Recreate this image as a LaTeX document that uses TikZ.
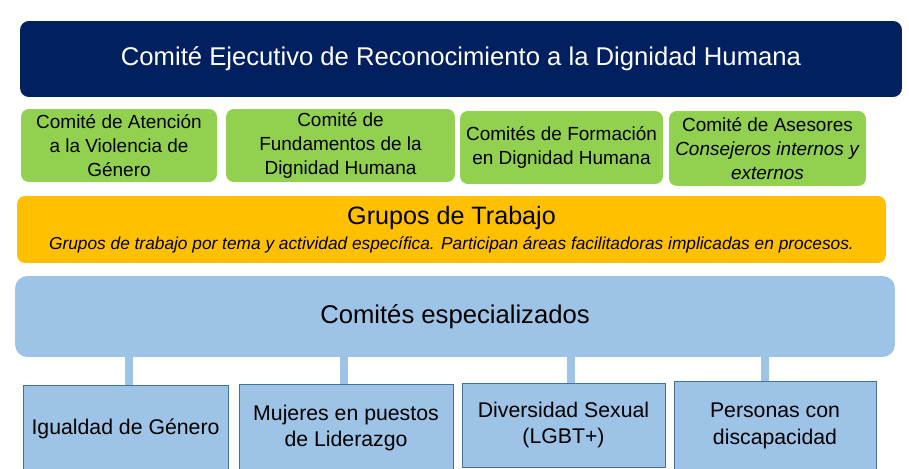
\documentclass[tikz,border=0pt]{standalone}
\usepackage{fontspec}
\setmainfont{Liberation Sans}
\usepackage{xcolor}
\usetikzlibrary{positioning}
\definecolor{comitenavy}{RGB}{0,32,96}
\definecolor{comitegreen}{RGB}{146,208,80}
\definecolor{grupoorange}{RGB}{255,192,0}
\definecolor{espblue}{RGB}{157,195,230}
\definecolor{espborder}{RGB}{65,113,156}

\begin{document}
\begin{tikzpicture}[
        x=0.02cm, y=-0.02cm,
        headbox/.style={rectangle,rounded corners=5pt,fill=comitenavy,text=white,
          minimum width=17.64cm,minimum height=1.52cm,align=center,font=\fontsize{14.6}{17}\selectfont},
        greenbox/.style={rectangle,rounded corners=4.5pt,fill=comitegreen,
          minimum height=1.46cm,align=center,inner sep=1pt,font=\fontsize{10.8}{13.6}\selectfont},
        grupobox/.style={rectangle,rounded corners=4.5pt,fill=grupoorange,
          minimum width=17.38cm,minimum height=1.34cm,align=center},
        espbox/.style={rectangle,rounded corners=7pt,fill=espblue,
          minimum width=17.6cm,minimum height=1.62cm,align=center,font=\fontsize{14.6}{17}\selectfont},
        subbox/.style={rectangle,draw=espborder,line width=0.5pt,fill=espblue,
          align=center,font=\fontsize{12.1}{15.3}\selectfont},
        link/.style={draw=espblue,line width=0.16cm}
      ]
        \useasboundingbox (0,0) rectangle (909,469);
        \clip (0,0) rectangle (909,469);

        % cabecera
        \node[headbox] (ejec) at (461,59) {Comité Ejecutivo de Reconocimiento a la Dignidad Humana};

        % comites de apoyo
        \node[greenbox,minimum width=3.92cm] (atencion) at (119,145.5)
          {Comité de Atención\\ a la Violencia de\\ Género};
        \node[greenbox,minimum width=4.58cm] (fundam) at (340.5,145.5)
          {Comité de\\ Fundamentos de la\\ Dignidad Humana};
        \node[greenbox,minimum width=4.06cm] (formac) at (561.5,147.5)
          {Comités de Formación\\ en Dignidad Humana};
        \node[greenbox,minimum width=3.94cm,minimum height=1.5cm] (asesor) at (767.5,148.5)
          {Comité de Asesores\\ \textit{Consejeros internos y}\\ \textit{externos}};

        % grupos de trabajo
        \node[grupobox] (grupos) at (451.5,229.5)
          {{\fontsize{14.3}{17}\selectfont Grupos de Trabajo}\\[2pt]
           {\fontsize{9.85}{12}\selectfont\itshape Grupos de trabajo por tema y actividad específica. Participan áreas facilitadoras implicadas en procesos.}};

        % comites especializados
        \node[espbox] (espec) at (455,316.5) {Comités especializados};

        \node[subbox,minimum width=4.1cm,minimum height=1.76cm] (igualdad) at (125.5,429)
          {Igualdad de Género};
        \node[subbox,minimum width=4.28cm,minimum height=1.76cm] (mujeres) at (346,428)
          {Mujeres en puestos\\ de Liderazgo};
        \node[subbox,minimum width=4.06cm,minimum height=1.68cm] (diversidad) at (563.5,425)
          {Diversidad Sexual\\ (LGBT+)};
        \node[subbox,minimum width=4.04cm,minimum height=1.8cm] (personas) at (775,426)
          {Personas con\\ discapacidad};

        \draw[link] ([xshift=0.07cm]igualdad.north) -- ([xshift=0.07cm]igualdad.north |- espec.south);
        \draw[link] ([xshift=-0.04cm]mujeres.north) -- ([xshift=-0.04cm]mujeres.north |- espec.south);
        \draw[link] ([xshift=0.15cm]diversidad.north) -- ([xshift=0.15cm]diversidad.north |- espec.south);
        \draw[link] ([xshift=-0.2cm]personas.north) -- ([xshift=-0.2cm]personas.north |- espec.south);
      \end{tikzpicture}
\end{document}
